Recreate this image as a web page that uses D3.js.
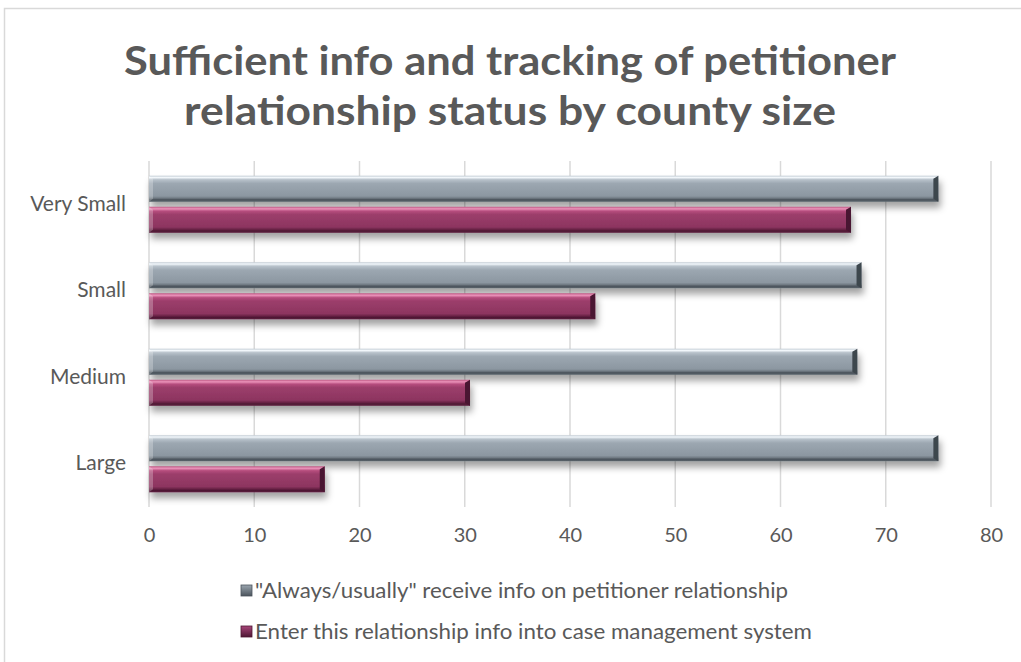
<!DOCTYPE html>
<html>
<head>
<meta charset="utf-8">
<script src="https://cdn.jsdelivr.net/npm/d3@7"></script>
<style>
  html, body { margin: 0; padding: 0; background: #ffffff; }
  svg { display: block; }
  text { font-family: Lato, "Open Sans", sans-serif; fill: #595959; }
</style>
</head>
<body>
<svg id="chart" width="1021" height="662"></svg>
<script>
const titleLines = ["Sufficient info and tracking of petitioner", "relationship status by county size"];
const categories = ["Very Small", "Small", "Medium", "Large"];
const seriesNames = ["\"Always/usually\" receive info on petitioner relationship", "Enter this relationship info into case management system"];
const seriesAlways = [75, 67.7, 67.3, 75];
const seriesEnter = [66.7, 42.4, 30.5, 16.7];
const xTicks = [0, 10, 20, 30, 40, 50, 60, 70, 80];

const svg = d3.select("#chart");

// frame
svg.append("rect").attr("x", 4.5).attr("y", 8.5).attr("width", 1040).attr("height", 700)
  .attr("fill", "#fff").attr("stroke", "#d9d9d9").attr("stroke-width", 1.5);

const defs = svg.append("defs");
const f = defs.append("filter").attr("id", "shadow").attr("x", "-5%").attr("y", "-40%").attr("width", "115%").attr("height", "220%");
f.append("feDropShadow").attr("dx", 2).attr("dy", 6).attr("stdDeviation", 3.5).attr("flood-color", "#000").attr("flood-opacity", 0.36);

function grad(id, stops) {
  const g = defs.append("linearGradient").attr("id", id).attr("x1", 0).attr("y1", 0).attr("x2", 0).attr("y2", 1);
  stops.forEach(s => g.append("stop").attr("offset", s[0]).attr("stop-color", s[1]));
}
grad("gGray", [[0, "#c3ccd4"], [0.07, "#f2f7fb"], [0.15, "#b8c2cb"], [0.3, "#9ca7b1"], [0.78, "#8c97a1"], [0.86, "#717b84"], [0.92, "#4b545c"], [1, "#5a636b"]]);
grad("gMag", [[0, "#bd5783"], [0.08, "#eb93ba"], [0.17, "#b64d7d"], [0.3, "#9c3e6b"], [0.78, "#8d3560"], [0.86, "#6d2549"], [0.93, "#4e1733"], [1, "#5f2141"]]);

const series = [
  { name: seriesNames[0], values: seriesAlways, fill: "url(#gGray)", edge: "#3e464d", swatch: ["#9aa5af", "#4b545c"] },
  { name: seriesNames[1], values: seriesEnter, fill: "url(#gMag)", edge: "#4a1430", swatch: ["#a8457a", "#4e1733"] }
];

const x = d3.scaleLinear().domain([0, 80]).range([149, 991]);
const y = d3.scaleBand().domain(categories).range([161, 507]).paddingInner(0.34).paddingOuter(0.17);
const yInner = d3.scaleBand().domain([0, 1]).range([0, y.bandwidth()]).paddingInner(0.16);

// title
const title = svg.append("g");
titleLines.forEach((t, i) => {
  title.append("text").attr("x", 510).attr("y", 75 + i * 50)
    .attr("text-anchor", "middle").style("font-size", "41px").style("font-weight", "bold")
    .attr("textLength", i === 0 ? 772 : 652).attr("lengthAdjust", "spacingAndGlyphs")
    .text(t);
});

// gridlines
svg.append("g").selectAll("line").data(xTicks).join("line")
  .attr("x1", d => x(d)).attr("x2", d => x(d)).attr("y1", 161).attr("y2", 507)
  .attr("stroke", "#d9d9d9").attr("stroke-width", 1.5);

// x axis labels
const xAxis = d3.axisBottom(x).tickValues(xTicks).tickSize(0).tickPadding(0).tickFormat(d3.format("d"));
const gx = svg.append("g").attr("transform", "translate(0,526)").call(xAxis);
gx.select(".domain").remove();
gx.selectAll("text").style("font-size", "20px").attr("fill", "#595959").attr("dy", "0.8em").style("font-family", "Lato, sans-serif");

// y axis labels
const yAxis = d3.axisLeft(y).tickSize(0).tickPadding(0);
const gy = svg.append("g").attr("transform", "translate(126,0)").call(yAxis);
gy.select(".domain").remove();
gy.selectAll("text").style("font-size", "21px").attr("fill", "#595959").style("font-family", "Lato, sans-serif");

// bars
const bars = svg.append("g");
series.forEach((s, si) => {
  const g = bars.append("g");
  categories.forEach((c, ci) => {
    const v = s.values[ci];
    const y0 = y(c) + yInner(si), h = yInner.bandwidth();
    const x0 = x(0), x1 = x(v);
    const bg = g.append("g").attr("filter", "url(#shadow)");
    bg.append("rect").attr("x", x0).attr("y", y0).attr("width", x1 - x0).attr("height", h).attr("fill", s.fill);
    bg.append("path").attr("d", `M${x1 - 5},${y0 + 3}L${x1},${y0}L${x1},${y0 + h}L${x1 - 5},${y0 + h - 3}Z`).attr("fill", s.edge);
    g.append("path").attr("d", `M${x0},${y0}L${x0 + 4},${y0 + 3}L${x0 + 4},${y0 + h - 3}L${x0},${y0 + h}Z`).attr("fill", "#ffffff").attr("opacity", 0.25);
  });
});

// legend
series.forEach((s, i) => grad("sw" + i, [[0, s.swatch[0]], [1, s.swatch[1]]]));
const legend = svg.append("g");
series.forEach((s, i) => {
  const ly = 591 + i * 41;
  legend.append("rect").attr("x", 241).attr("y", ly - 6).attr("width", 11).attr("height", 11)
    .attr("fill", "url(#sw" + i + ")").attr("stroke", s.swatch[1]).attr("stroke-width", 0.8);
  legend.append("text").attr("x", 255).attr("y", ly).attr("dy", "0.35em")
    .style("font-size", "21px").attr("textLength", i === 0 ? 533 : 557).attr("lengthAdjust", "spacingAndGlyphs")
    .text(s.name);
});
</script>
</body>
</html>
